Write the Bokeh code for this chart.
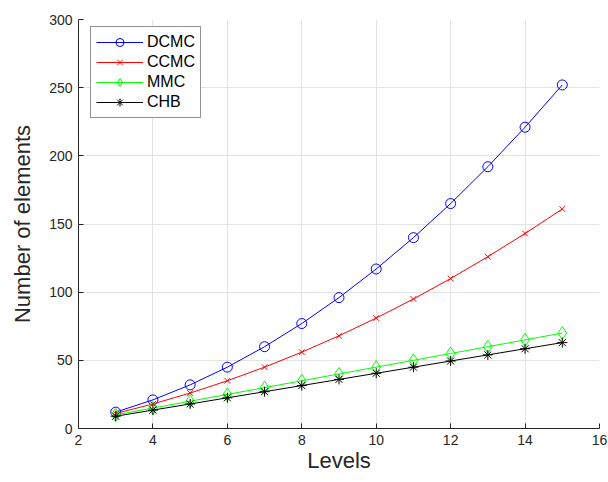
from bokeh.plotting import figure
from bokeh.models import Range1d, FixedTicker, Legend, LegendItem
from bokeh.embed import file_html
from bokeh.resources import INLINE

levels = [3, 4, 5, 6, 7, 8, 9, 10, 11, 12, 13, 14, 15]
dcmc = [12, 21, 32, 45, 60, 77, 96, 117, 140, 165, 192, 221, 252]
ccmc = [11, 18, 26, 35, 45, 56, 68, 81, 95, 110, 126, 143, 161]
mmc = [10, 15, 20, 25, 30, 35, 40, 45, 50, 55, 60, 65, 70]
chb = [9, 13.5, 18, 22.5, 27, 31.5, 36, 40.5, 45, 49.5, 54, 58.5, 63]

x_ticks = [2, 4, 6, 8, 10, 12, 14, 16]
y_ticks = [0, 50, 100, 150, 200, 250, 300]

FONT = "Liberation Sans"
TXT = "#262626"

p = figure(width=608, height=482, output_backend="svg", toolbar_location=None,
           x_range=Range1d(2, 16), y_range=Range1d(0, 300),
           min_border_left=78, min_border_right=9, min_border_top=19, min_border_bottom=54)
p.outline_line_color = None
p.background_fill_color = "white"

for ax in (p.xaxis[0], p.yaxis[0]):
    ax.major_tick_in = 5
    ax.major_tick_out = 0
    ax.minor_tick_in = 0
    ax.minor_tick_out = 0
    ax.axis_line_color = TXT
    ax.major_tick_line_color = TXT
    ax.major_label_text_font = FONT
    ax.major_label_text_font_size = "14px"
    ax.major_label_text_color = TXT
    ax.axis_label_text_font = FONT
    ax.axis_label_text_font_size = "22px"
    ax.axis_label_text_font_style = "normal"
    ax.axis_label_text_color = TXT

p.xaxis[0].ticker = FixedTicker(ticks=x_ticks)
p.yaxis[0].ticker = FixedTicker(ticks=y_ticks)
p.xaxis[0].axis_label = "Levels"
p.yaxis[0].axis_label = "Number of elements"
p.xaxis[0].major_label_standoff = 6
p.xaxis[0].axis_label_standoff = 0
p.yaxis[0].major_label_standoff = 6
p.yaxis[0].axis_label_standoff = 11

p.xgrid.ticker = FixedTicker(ticks=x_ticks)
p.ygrid.ticker = FixedTicker(ticks=y_ticks)
for g in (p.xgrid[0], p.ygrid[0]):
    g.grid_line_color = "#e3e3e3"
    g.grid_line_width = 1

series = [
    ("DCMC", dcmc, "#0000ff", "circle", 10),
    ("CCMC", ccmc, "#ff0000", "x", 8),
    ("MMC", mmc, "#00ff00", "diamond", 13),
    ("CHB", chb, "#000000", "asterisk", 10),
]

items = []
for name, ys, color, marker, size in series:
    l = p.line(levels, ys, line_color=color, line_width=1)
    s = p.scatter(levels, ys, marker=marker, size=size, line_color=color,
                  fill_color=None, line_width=1)
    items.append(LegendItem(label=name, renderers=[l, s]))

legend = Legend(items=items, location=(12, 310))
legend.label_text_font = FONT
legend.label_text_font_size = "16px"
legend.label_text_color = "#000000"
legend.glyph_width = 47
legend.glyph_height = 20
legend.label_height = 20
legend.label_standoff = 4
legend.spacing = 0
legend.padding = 5
legend.margin = 0
legend.border_line_color = "#262626"
legend.border_line_width = 1
legend.background_fill_color = "white"
legend.background_fill_alpha = 1
p.add_layout(legend, "center")

open("out.html", "w").write(file_html(p, INLINE))
